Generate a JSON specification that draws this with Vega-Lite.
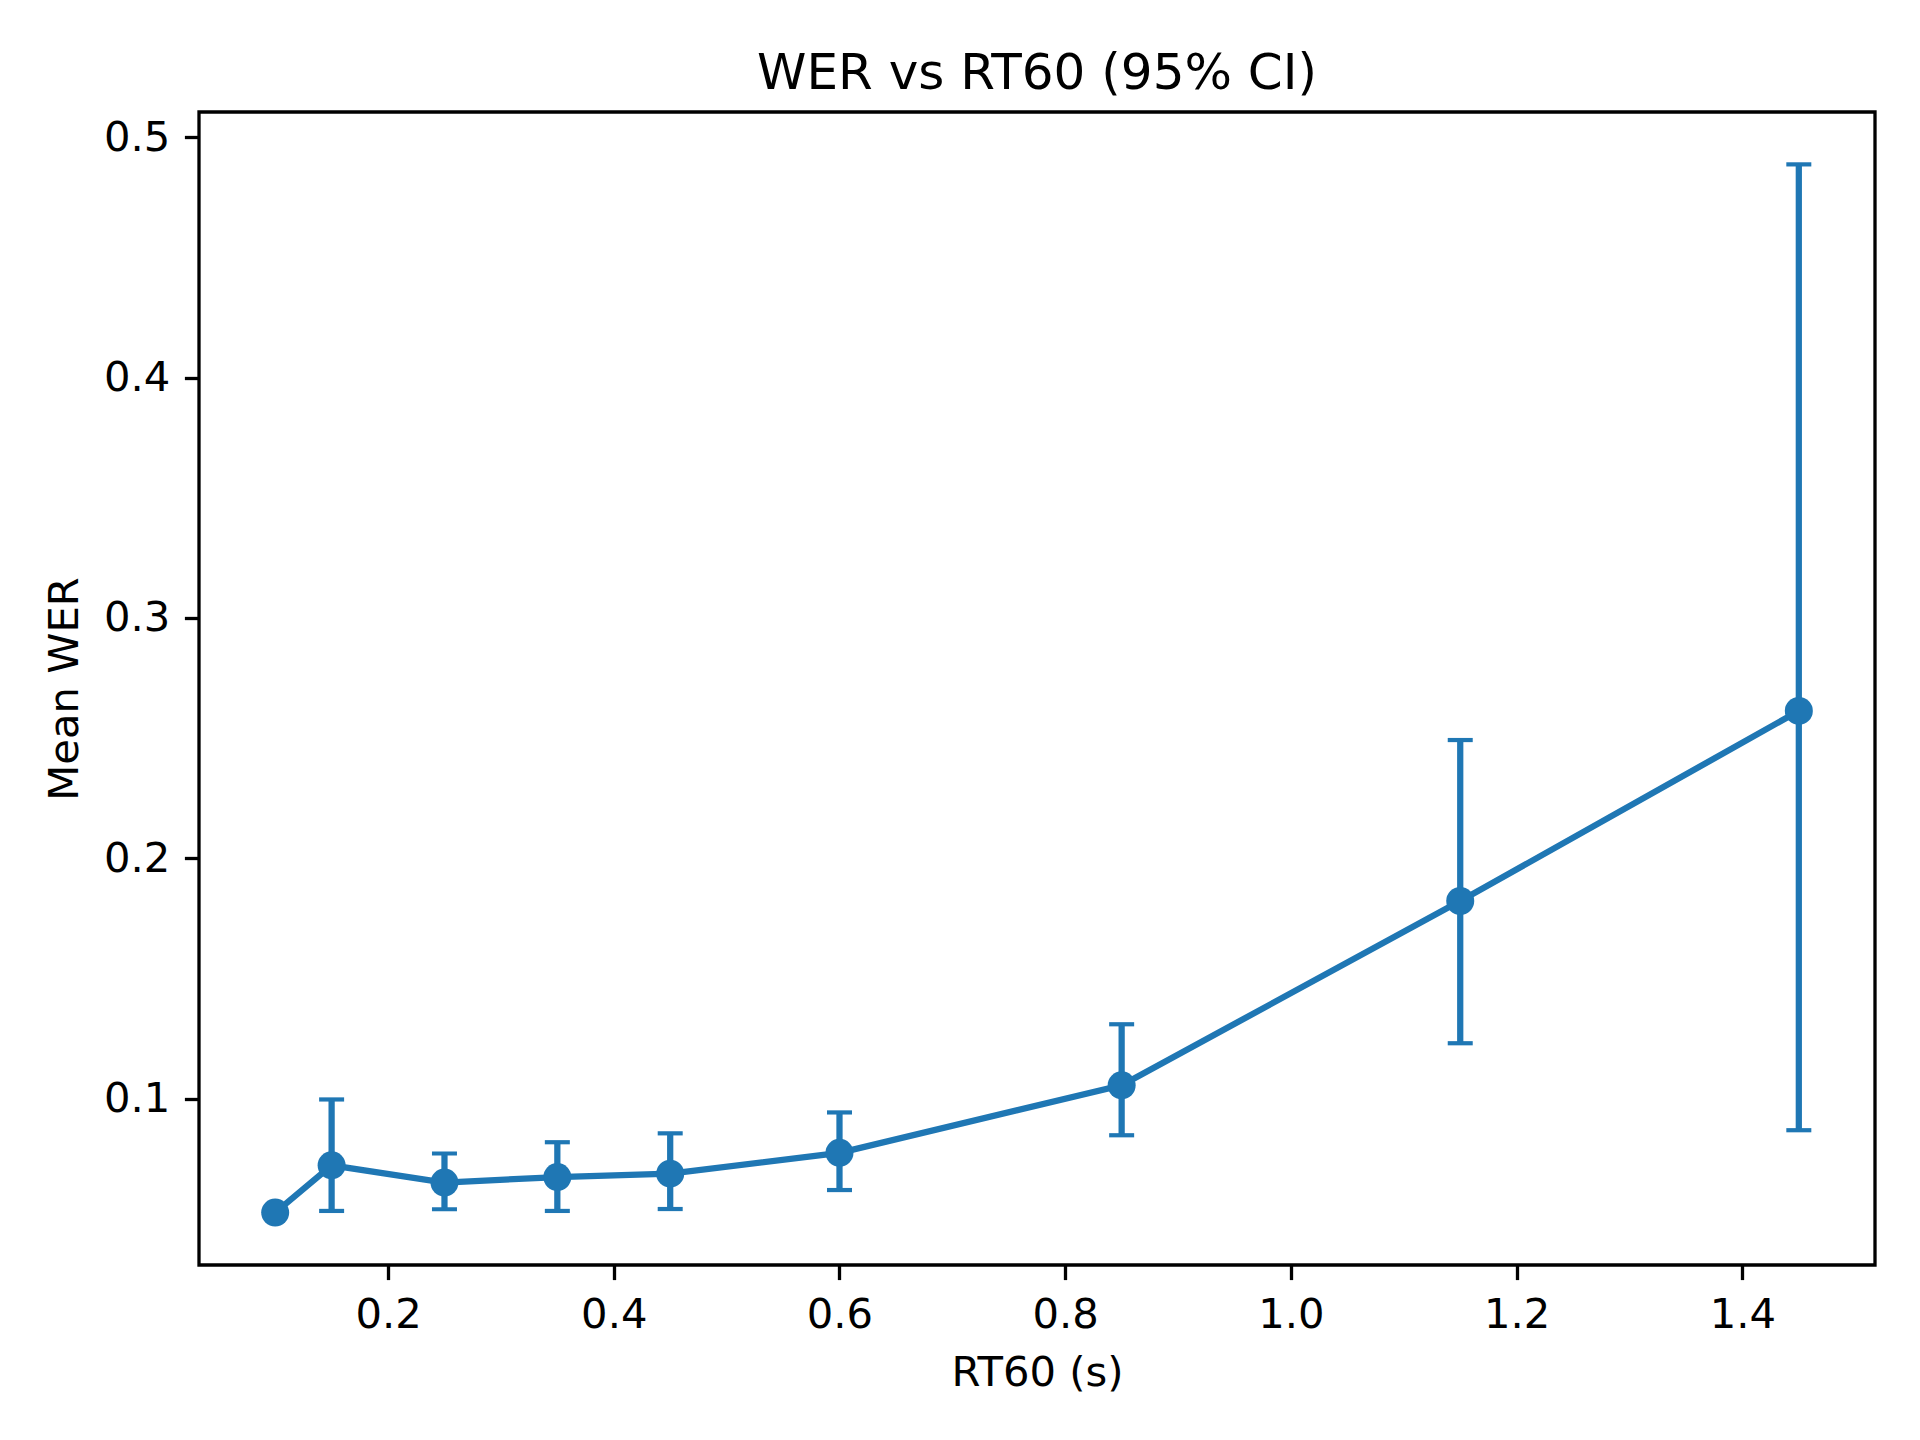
{
  "$schema": "https://vega.github.io/schema/vega-lite/v6.json",
  "autosize": "none",
  "width": 1676,
  "height": 1153,
  "padding": {"left": 199, "top": 112, "right": 45, "bottom": 175},
  "background": "white",
  "title": {
    "text": "WER vs RT60 (95% CI)",
    "fontSize": 50,
    "font": "DejaVu Sans",
    "fontWeight": "normal",
    "color": "black",
    "anchor": "middle",
    "frame": "group",
    "baseline": "alphabetic",
    "offset": 25,
    "dy": 52
  },
  "config": {
    "view": {"stroke": "black", "strokeWidth": 3.3},
    "axis": {
      "domain": false,
      "grid": false,
      "labelFont": "DejaVu Sans",
      "titleFont": "DejaVu Sans",
      "labelFontSize": 41.7,
      "titleFontSize": 41.7,
      "titleFontWeight": "normal",
      "labelColor": "black",
      "titleColor": "black",
      "tickColor": "black",
      "tickSize": 14.6,
      "tickWidth": 3.3,
      "labelPadding": 14.6,
      "titlePadding": 16.7
    }
  },
  "data": {
    "values": [
      {"rt60": 0.10, "wer": 0.0525, "lo": null, "hi": null},
      {"rt60": 0.15, "wer": 0.0722, "lo": 0.0532, "hi": 0.0996},
      {"rt60": 0.25, "wer": 0.0650, "lo": 0.0539, "hi": 0.0771},
      {"rt60": 0.35, "wer": 0.0673, "lo": 0.0532, "hi": 0.0818},
      {"rt60": 0.45, "wer": 0.0687, "lo": 0.0540, "hi": 0.0855},
      {"rt60": 0.60, "wer": 0.0774, "lo": 0.0619, "hi": 0.0942},
      {"rt60": 0.85, "wer": 0.1055, "lo": 0.0847, "hi": 0.1309},
      {"rt60": 1.15, "wer": 0.1822, "lo": 0.1230, "hi": 0.2492},
      {"rt60": 1.45, "wer": 0.2613, "lo": 0.0868, "hi": 0.4888}
    ]
  },
  "encoding": {
    "x": {
      "field": "rt60",
      "type": "quantitative",
      "scale": {"domain": [0.0325, 1.5175], "nice": false, "zero": false},
      "axis": {"title": "RT60 (s)", "values": [0.2, 0.4, 0.6, 0.8, 1.0, 1.2, 1.4], "format": ".1f", "labelFlush": false}
    }
  },
  "layer": [
    {
      "transform": [{"filter": "datum.lo != null"}],
      "mark": {"type": "rule", "color": "#1f77b4", "strokeWidth": 6.25},
      "encoding": {
        "y": {"field": "lo", "type": "quantitative"},
        "y2": {"field": "hi"}
      }
    },
    {
      "transform": [{"filter": "datum.lo != null"}],
      "mark": {"type": "tick", "orient": "horizontal", "color": "#1f77b4", "size": 25, "thickness": 4.2, "opacity": 1},
      "encoding": {
        "y": {"field": "lo", "type": "quantitative"}
      }
    },
    {
      "transform": [{"filter": "datum.lo != null"}],
      "mark": {"type": "tick", "orient": "horizontal", "color": "#1f77b4", "size": 25, "thickness": 4.2, "opacity": 1},
      "encoding": {
        "y": {"field": "hi", "type": "quantitative"}
      }
    },
    {
      "mark": {"type": "line", "color": "#1f77b4", "strokeWidth": 6.25},
      "encoding": {
        "y": {
          "field": "wer",
          "type": "quantitative",
          "scale": {"domain": [0.0307, 0.5106], "nice": false, "zero": false},
          "axis": {"title": "Mean WER", "values": [0.1, 0.2, 0.3, 0.4, 0.5], "format": ".1f", "labelFlush": false}
        }
      }
    },
    {
      "mark": {"type": "point", "shape": "circle", "filled": true, "color": "#1f77b4", "size": 784, "opacity": 1},
      "encoding": {
        "y": {"field": "wer", "type": "quantitative"}
      }
    }
  ],
  "resolve": {"scale": {"y": "shared"}}
}
